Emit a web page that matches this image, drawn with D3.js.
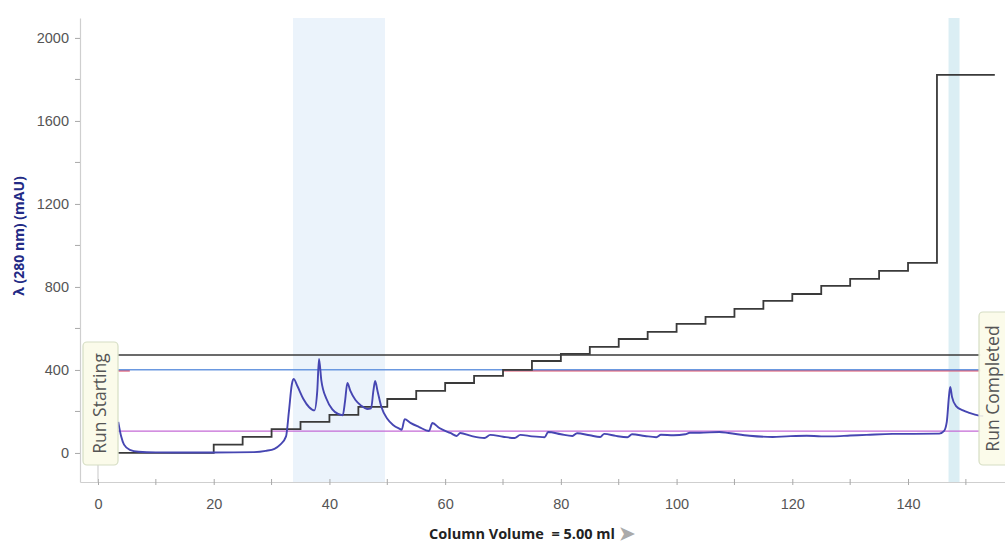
<!DOCTYPE html>
<html>
<head>
<meta charset="utf-8">
<script src="https://cdn.jsdelivr.net/npm/d3@7"></script>
<style>
  body { margin: 0; background: #fff; }
  svg { display: block; font-family: "Open Sans", "Noto Sans", sans-serif; }
</style>
</head>
<body>
<div id="chart"></div>
<script>
// UV trace (column volume, mAU)
const uvCV = [3.5, 4.0, 4.5, 5.5, 7, 10, 20, 27, 29, 30.5, 31.5, 32.5, 33, 33.5, 33.8, 34.5, 35.5, 36.5, 37.4, 37.9, 38.2, 38.6, 39.5, 40.5, 41.5, 42.3, 42.7, 43.1, 43.6, 44.5, 45.5, 46.5, 47.2, 47.6, 47.9, 48.3, 49, 50, 51, 52, 52.5, 53, 54, 55.5, 57.2, 57.8, 59, 61, 62, 62.6, 64.5, 66.8, 67.8, 70, 72, 73, 75, 77.2, 77.8, 80, 82, 82.8, 85, 86.8, 87.5, 89.5, 91.5, 92.3, 94.5, 96.5, 97.3, 99.5, 101.5, 102.3, 104, 107.4, 109, 112.6, 116.6, 119, 122.5, 125, 127, 130, 132.8, 137.3, 141, 145.4, 146.2, 146.7, 147.1, 147.3, 147.6, 148.3, 149.5, 150.6, 152.3, 153];
const uvMAU = [150, 80, 40, 15, 6, 3, 2, 4, 10, 20, 40, 80, 200, 330, 357, 320, 260, 220, 205, 300, 453, 350, 260, 210, 188, 182, 250, 337, 300, 255, 228, 212, 215, 300, 347, 300, 220, 165, 135, 118, 112, 163, 145, 125, 106, 144, 120, 95, 82, 96, 82, 72, 87, 78, 72, 87, 80, 76, 101, 90, 82, 95, 85, 77, 92, 82, 76, 90, 82, 76, 88, 85, 90, 97, 97, 101, 96, 83, 77, 80, 83, 80, 80, 84, 87, 92, 92, 93, 105, 150, 280, 318, 270, 226, 205, 193, 180, 178];

// Gradient step programme: step start (CV) and level
const stepCV = [3.5, 20, 25, 30, 35, 40, 45, 50, 55, 60, 65, 70, 75, 80, 85, 90, 95, 100, 105, 110, 115, 120, 125, 130, 135, 140, 145, 155];
const stepLevel = [0, 40, 77, 115, 150, 183, 222, 260, 299, 337, 371, 400, 443, 477, 511, 549, 583, 622, 656, 694, 733, 766, 805, 839, 877, 916, 1822, 1822];

// flat reference lines
const flatLines = [
  { name: "pressure", value: 472, from: 3.5, to: 152.5, color: "#3a3a3a", width: 1.6 },
  { name: "conc", value: 396, from: 3.5, to: 5.5, color: "#e0506a", width: 1.6 },
  { name: "conc2", value: 396, from: 70, to: 152.5, color: "#e0506a", width: 1.6 },
  { name: "flow", value: 401, from: 3.5, to: 152.5, color: "#6a98e0", width: 1.4 },
  { name: "temp", value: 105, from: 3.5, to: 152.5, color: "#c46ad6", width: 1.4 }
];

// fraction shading
const bands = [
  { from: 33.7, to: 49.6, color: "#ebf3fb" },
  { from: 147.0, to: 148.9, color: "#dbeef4" }
];

const yTicks = [0, 400, 800, 1200, 1600, 2000];
const yMinor = [200, 600, 1000, 1400, 1800];
const xTicks = [0, 20, 40, 60, 80, 100, 120, 140];
const xMinor = [10, 30, 50, 70, 90, 110, 130, 150];

const width = 1005, height = 546;
const plotLeft = 80, plotTop = 18, plotBottom = 482;

const x = d3.scaleLinear().domain([-3.11, 156.76]).range([plotLeft, width]);
const y = d3.scaleLinear().domain([-140, 2096]).range([plotBottom, plotTop]);

const svg = d3.select("#chart").append("svg")
  .attr("width", width).attr("height", height);

// shaded fractions
svg.selectAll("rect.band").data(bands).enter().append("rect")
  .attr("class", "band")
  .attr("x", d => x(d.from))
  .attr("width", d => x(d.to) - x(d.from))
  .attr("y", plotTop)
  .attr("height", plotBottom - plotTop)
  .attr("fill", d => d.color);

// axes
const yAxis = d3.axisLeft(y).tickValues(yTicks).tickFormat(d3.format("d"))
  .tickSize(5).tickSizeOuter(0).tickPadding(6);
const gy = svg.append("g").attr("transform", `translate(${plotLeft},0)`).call(yAxis);
gy.selectAll("line.minor").data(yMinor).enter().append("line")
  .attr("class", "minor")
  .attr("x1", -5).attr("x2", 0).attr("y1", d => y(d)).attr("y2", d => y(d));

const xAxis = d3.axisBottom(x).tickValues(xTicks).tickSize(3).tickSizeOuter(0).tickPadding(14);
const gx = svg.append("g").attr("transform", `translate(0,${plotBottom})`).call(xAxis);
gx.selectAll(".tick line").attr("y1", -3);
gx.selectAll("line.minor").data(xMinor).enter().append("line")
  .attr("class", "minor")
  .attr("x1", d => x(d)).attr("x2", d => x(d)).attr("y1", -3).attr("y2", 3);

[gx, gy].forEach(g => {
  g.select(".domain").attr("stroke", "#cfcfcf").attr("stroke-width", 1.2);
  g.selectAll("line").attr("stroke", "#a8a8a8");
  g.selectAll("text").attr("fill", "#555").style("font-size", "14.5px");
});

// flat lines
svg.selectAll("line.flat").data(flatLines).enter().append("line")
  .attr("class", "flat")
  .attr("x1", d => x(d.from)).attr("x2", d => x(d.to))
  .attr("y1", d => y(d.value)).attr("y2", d => y(d.value))
  .attr("stroke", d => d.color).attr("stroke-width", d => d.width);

// step gradient
const stepData = stepCV.map((cv, i) => [cv, stepLevel[i]]);
svg.append("path")
  .datum(stepData)
  .attr("fill", "none")
  .attr("stroke", "#3a3a3a")
  .attr("stroke-width", 1.8)
  .attr("d", d3.line().x(d => x(d[0])).y(d => y(d[1])).curve(d3.curveStepAfter));

// UV trace
const uvData = uvCV.map((cv, i) => [cv, uvMAU[i]]);
svg.append("path")
  .datum(uvData)
  .attr("fill", "none")
  .attr("stroke", "#4646b2")
  .attr("stroke-width", 1.9)
  .attr("d", d3.line().x(d => x(d[0])).y(d => y(d[1])).curve(d3.curveMonotoneX));

// run markers
svg.append("line")
  .attr("x1", x(0)).attr("x2", x(0)).attr("y1", 465).attr("y2", plotBottom)
  .attr("stroke", "#c8c8c8").attr("stroke-width", 1);

function runLabel(x0, y0, w, h, baseX, label) {
  svg.append("rect")
    .attr("x", x0).attr("y", y0).attr("width", w).attr("height", h)
    .attr("rx", 4)
    .attr("fill", "#fbfbe8").attr("fill-opacity", 0.9)
    .attr("stroke", "#d6dec4").attr("stroke-width", 1.2);
  svg.append("text")
    .attr("transform", `translate(${baseX},${y0 + h / 2}) rotate(-90)`)
    .attr("text-anchor", "middle")
    .attr("fill", "#555")
    .style("font-size", "17.5px")
    .text(label);
}
runLabel(83, 342, 35, 123, 106, "Run Starting");
runLabel(979, 312, 40, 153, 999, "Run Completed");

// axis titles
svg.append("text")
  .attr("transform", "translate(24,236) rotate(-90)")
  .attr("text-anchor", "middle")
  .attr("fill", "#222a85")
  .style("font-size", "14px").style("font-weight", "bold")
  .text("λ (280 nm) (mAU)");

const xt = svg.append("text")
  .attr("x", 429).attr("y", 539)
  .attr("fill", "#222")
  .style("font-size", "14.5px").style("font-weight", "bold")
  .style("white-space", "pre");
xt.append("tspan").text("Column Volume  = 5.00 ml ");
xt.append("tspan").attr("fill", "#aaa").style("font-size", "19px").attr("dy", 1).text("➤");
</script>
</body>
</html>
